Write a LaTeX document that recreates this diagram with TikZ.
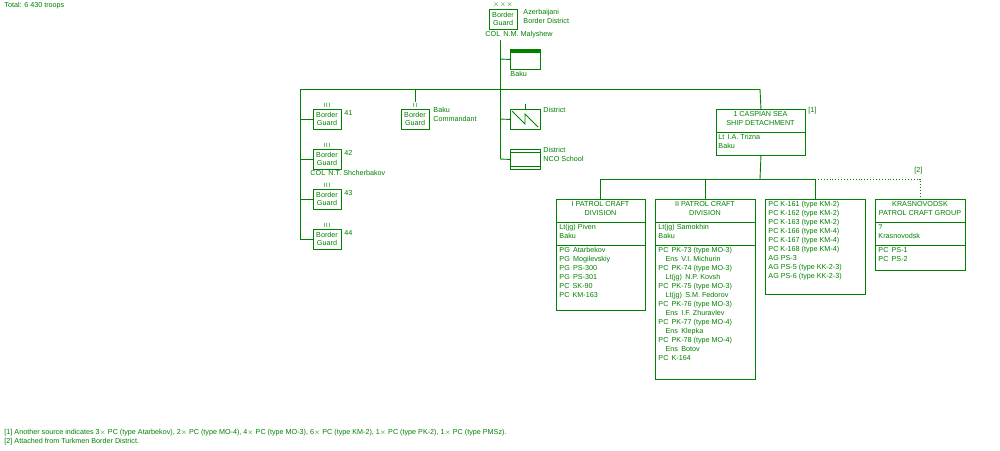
\documentclass[tikz,border=0pt]{standalone}
\usepackage{fontspec}
\setmainfont{Liberation Sans}
\definecolor{OOBgreen}{RGB}{0,128,0}
\usetikzlibrary{calc}
\begin{document}
\begin{tikzpicture}[x=1pt, y=-1pt, color=OOBgreen, line width=0.9pt,
  font=\fontsize{7.2}{9}\selectfont,
  Unit/.style={draw, minimum width=28, minimum height=20, inner sep=0, align=center, font=\fontsize{7.2}{8}\selectfont},
  Txt/.style={anchor=north west, inner sep=0, align=left},
  Box/.style={draw, anchor=north west, inner sep=0}]
\useasboundingbox (0,0) rectangle (1000,450);
% headquarters
\node[Unit] (hq) at (503,19) {Border\\Guard};
\node[anchor=south, inner sep=1] at (hq.north) {$\times\!\times\!\times$};
\node[Txt] (hqname) at (523,9) {Azerbaijani\\Border District};
\node[Txt] (hqcmd) at (485,31) {COL\, N.M. Malyshew};
\node[Txt] (total) at (4,2) {Total: 6 430 troops};
\coordinate (trunk) at (500,40);
\coordinate (bus) at (500,89);
\draw (trunk) -- (500,159);
% HQ location
\node[Box, minimum width=30, minimum height=20] (hqbaku) at (510,49) {};
\fill (510,49) rectangle (540,53);
\draw (500,59) -- (hqbaku.west);
\node[Txt] at (510,71) {Baku};
% main bus
\draw (300,89) -- (760,89);
% border guard detachments
\draw (300,89) -- (300,239);
\foreach \n/\y in {41/119,42/159,43/199,44/239} {
  \node[Unit] (bg\n) at (327,\y) {Border\\Guard};
  \node[anchor=south, inner sep=1, font=\fontsize{6}{6}\selectfont] at (bg\n.north) {I\,I\,I};
  \node[Txt] at (344,\y-9) {\n};
  \draw (300,\y) -- (bg\n.west);
}
\node[Txt] (cmd42) at (310,170) {COL\, N.T. Shcherbakov};
% commandant
\node[Unit] (cmdt) at (415,119) {Border\\Guard};
\node[anchor=south, inner sep=1, font=\fontsize{6}{6}\selectfont] (cmdtick) at (cmdt.north) {I\,I};
\draw (415,89) -- (cmdtick.north);
\node[Txt] at (433,107) {Baku\\Commandant};
% district signal unit
\node[Box, minimum width=30, minimum height=20] (dist) at (510,109) {};
\draw (512,111) -- (525,124) -- (525,114) -- (538,127);
\draw (525,109) -- (525,104);
\draw (500,119) -- (dist.west);
\node[Txt] at (543,107) {District};
% NCO school
\node[Box, minimum width=30, minimum height=20] (nco) at (510,149) {};
\draw (510,152) -- (540,152) (510,166) -- (540,166);
\draw (500,159) -- (nco.west);
\node[Txt] at (543,147) {District\\NCO School};
% ship detachment
\node[Box, minimum width=89, minimum height=46] (csd) at (716,109) {};
\draw (716,132) -- (805,132);
\node[anchor=north, align=center, inner sep=0] at (760.5,111) {1 CASPIAN SEA\\SHIP DETACHMENT};
\node[Txt] at (718,134) {Lt\, I.A. Trizna\\Baku};
\node[Txt] at (808,107) {[1]};
\draw (760,89) -- (csd.north);
\draw (csd.south) -- (760,179);
\draw (600,179) -- (815,179);
\draw[dotted] (815,179) -- (920,179) -- (920,199);
\node[Txt] at (914,167) {[2]};
% I patrol craft division
\node[Box, minimum width=89, minimum height=111] (pcd1) at (556,199) {};
\draw (556,222) -- (645,222) (556,245) -- (645,245);
\draw (600,179) -- (600,199);
\node[anchor=north, align=center, inner sep=0] at (600.5,201) {I PATROL CRAFT\\DIVISION};
\node[Txt] at (559,224) {Lt(jg) Piven\\Baku};
\node[Txt] at (559,247) {PG\, Atarbekov\\PG\, Mogilevskiy\\PG\, PS-300\\PG\, PS-301\\PC\, SK-90\\PC\, KM-163};
% II patrol craft division
\node[Box, minimum width=100, minimum height=180] (pcd2) at (655,199) {};
\draw (655,222) -- (755,222) (655,245) -- (755,245);
\draw (705,179) -- (705,199);
\node[anchor=north, align=center, inner sep=0] at (705,201) {II PATROL CRAFT\\DIVISION};
\node[Txt] at (658,224) {Lt(jg) Samokhin\\Baku};
\node[Txt] at (658,247) {PC\, PK-73 (type MO-3)\\\quad Ens\, V.I. Michurin\\PC\, PK-74 (type MO-3)\\\quad Lt(jg)\, N.P. Kovsh\\PC\, PK-75 (type MO-3)\\\quad Lt(jg)\, S.M. Fedorov\\PC\, PK-76 (type MO-3)\\\quad Ens\, I.F. Zhuravlev\\PC\, PK-77 (type MO-4)\\\quad Ens\, Klepka\\PC\, PK-78 (type MO-4)\\\quad Ens\, Botov\\PC\, K-164};
% other craft
\node[Box, minimum width=100, minimum height=95] (pcd3) at (765,199) {};
\draw (815,179) -- (815,199);
\node[Txt] at (768,201) {PC K-161 (type KM-2)\\PC K-162 (type KM-2)\\PC K-163 (type KM-2)\\PC K-166 (type KM-4)\\PC K-167 (type KM-4)\\PC K-168 (type KM-4)\\AG PS-3\\AG PS-5 (type KK-2-3)\\AG PS-6 (type KK-2-3)};
% Krasnovodsk group
\node[Box, minimum width=90, minimum height=71] (kpg) at (875,199) {};
\draw (875,222) -- (965,222) (875,245) -- (965,245);
\node[anchor=north, align=center, inner sep=0] at (920,201) {KRASNOVODSK\\PATROL CRAFT GROUP};
\node[Txt] at (878,224) {?\\Krasnovodsk};
\node[Txt] at (878,247) {PC\, PS-1\\PC\, PS-2};
% notes
\node[Txt] at (4,429) {[1] Another source indicates 3$\times$ PC (type Atarbekov), 2$\times$ PC (type MO-4), 4$\times$ PC (type MO-3), 6$\times$ PC (type KM-2), 1$\times$ PC (type PK-2), 1$\times$ PC (type PMSz).\\{}[2] Attached from Turkmen Border District.};
\end{tikzpicture}
\end{document}
